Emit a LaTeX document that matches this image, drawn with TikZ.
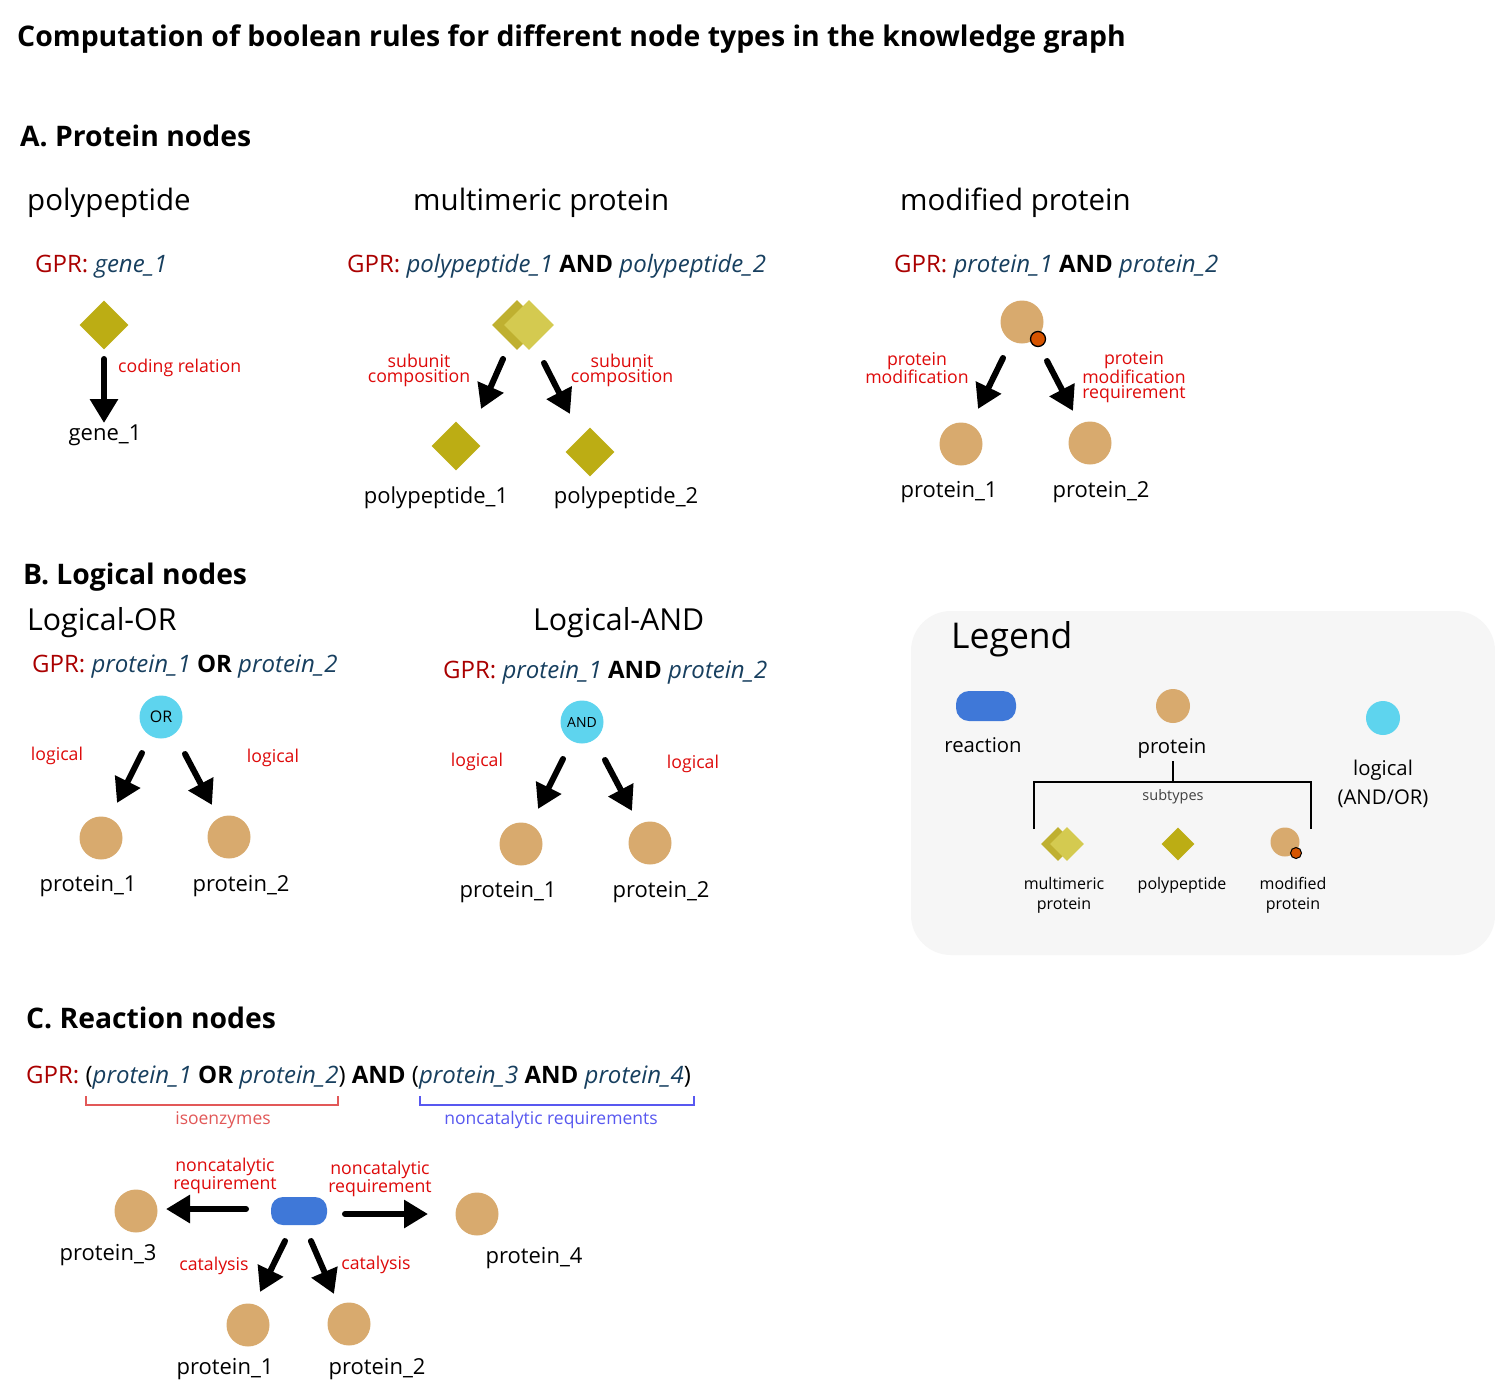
\documentclass[tikz,border=0pt]{standalone}
\usepackage{fontspec}
\setmainfont{Open Sans}
\usetikzlibrary{arrows.meta,shapes.geometric}
\newcommand\fz[2]{\fontsize{#1}{#2}\selectfont}
\definecolor{olive}{RGB}{188,173,20}
\definecolor{oliveback}{RGB}{191,176,48}
\definecolor{olivefront}{RGB}{212,202,80}
\definecolor{tan}{RGB}{216,170,110}
\definecolor{moddot}{RGB}{214,84,0}
\definecolor{cyanlog}{RGB}{94,212,238}
\definecolor{reacblue}{RGB}{63,120,216}
\definecolor{lblred}{RGB}{222,10,10}
\definecolor{gprred}{RGB}{170,0,0}
\definecolor{itblue}{RGB}{23,63,95}
\definecolor{isored}{RGB}{226,88,88}
\definecolor{ncblue}{RGB}{88,88,240}
\definecolor{legbg}{RGB}{246,246,246}
\newcommand\itb[1]{\textcolor{itblue}{\itshape #1}}
\newcommand\gpr{\textcolor{gprred}{GPR:}}
\begin{document}
\begin{tikzpicture}[x=1pt,y=-1pt,inner sep=0pt,
  bigarrow/.style={line width=6pt,line cap=round,-{Triangle[width=27pt,length=24pt]}},
  dia/.style={diamond,fill=olive,inner sep=0pt,minimum width=#1,minimum height=#1},
  dback/.style={diamond,fill=oliveback,inner sep=0pt,minimum width=#1,minimum height=#1},
  dfront/.style={diamond,fill=olivefront,inner sep=0pt,minimum width=#1,minimum height=#1},
  prot/.style={circle,fill=tan,inner sep=0pt,minimum size=#1},
  mdot/.style={circle,fill=moddot,draw=black,line width=1.3pt,inner sep=0pt,minimum size=#1},
  logc/.style={circle,fill=cyanlog,inner sep=0pt,minimum size=#1},
  reac/.style={rounded corners=#1,fill=reacblue},
  head/.style={anchor=base west,font=\fz{28.3}{32}\bfseries},
  sub/.style={anchor=base west,font=\fz{29.5}{34}},
  gprt/.style={anchor=base west,font=\fz{24}{28}},
  lbl/.style={text=lblred,align=center,font=\fz{17.7}{15},inner sep=0pt},
  nm/.style={anchor=base,font=\fz{22}{26}},
  leg/.style={anchor=base,align=center,font=\fz{16}{20}},
]
\useasboundingbox (0,0) rectangle (1495,1381);
\fill[white] (0,0) rectangle (1495,1381);

% Title
\node[anchor=base west,font=\fz{28.4}{32}\bfseries] (title) at (17,47) {Computation of boolean rules for different node types in the knowledge graph};

% ===== A =====
\node[head] (hA) at (20,146) {A. Protein nodes};
\node[sub] (sA1) at (27,210) {polypeptide};
\node[sub] (sA2) at (413,210) {multimeric protein};
\node[sub] (sA3) at (900,210) {modified protein};

% polypeptide
\node[gprt] (gA1) at (35,272) {\gpr{} \itb{gene\_1}};
\node[dia=49pt] (pp) at (104,325) {};
\coordinate (ppa1) at (104,359);
\coordinate (ppa2) at (104,423);
\draw[bigarrow] (ppa1) -- (ppa2);
\node[lbl,anchor=base west] (lcod) at (118,372) {coding relation};
\node[nm] (g1) at (105,440) {gene\_1};

% multimeric
\node[gprt] (gA2) at (347,272) {\gpr{} \itb{polypeptide\_1} \textbf{AND} \itb{polypeptide\_2}};
\node[dback=50pt] (mmb) at (517,325) {};
\node[dfront=50pt] (mmf) at (529,325) {};
\coordinate (mma1) at (503,359);
\coordinate (mma2) at (481,409);
\coordinate (mmb1) at (544,363);
\coordinate (mmb2) at (570,414);
\draw[bigarrow] (mma1) -- (mma2);
\draw[bigarrow] (mmb1) -- (mmb2);
\node[lbl] (lsc1) at (419,370) {subunit\\composition};
\node[lbl] (lsc2) at (622,370) {subunit\\composition};
\node[dia=49pt] (pp1) at (456,446) {};
\node[dia=49pt] (pp2) at (590,452) {};
\node[nm] (npp1) at (436,503) {polypeptide\_1};
\node[nm] (npp2) at (626,503) {polypeptide\_2};

% modified
\node[gprt] (gA3) at (894,272) {\gpr{} \itb{protein\_1} \textbf{AND} \itb{protein\_2}};
\node[prot=43pt] (mp) at (1022,322) {};
\node[mdot=15pt] (mpd) at (1038,339) {};
\coordinate (mpa1) at (1003,358);
\coordinate (mpa2) at (978,409);
\coordinate (mpb1) at (1047,361);
\coordinate (mpb2) at (1073,411);
\draw[bigarrow] (mpa1) -- (mpa2);
\draw[bigarrow] (mpb1) -- (mpb2);
\node[lbl] (lpm) at (917,368) {protein\\modification};
\node[lbl] (lpmr) at (1134,377) {protein\\modification\\requirement};
\node[prot=43pt] (mp1) at (961,444) {};
\node[prot=43pt] (mp2) at (1090,443) {};
\node[nm] (nmp1) at (949,497) {protein\_1};
\node[nm] (nmp2) at (1101,497) {protein\_2};

% ===== B =====
\node[head] (hB) at (23,584) {B. Logical nodes};
\node[sub,font=\fz{30.3}{34}] (sB1) at (27,630) {Logical-OR};
\node[sub,font=\fz{30.3}{34}] (sB2) at (533,630) {Logical-AND};

% OR
\node[gprt] (gB1) at (32,672) {\gpr{} \itb{protein\_1} \textbf{OR} \itb{protein\_2}};
\node[logc=43pt,font=\fz{16}{18}] (or) at (161,717) {OR};
\coordinate (ora1) at (142,753);
\coordinate (ora2) at (117,803);
\coordinate (orb1) at (185,754);
\coordinate (orb2) at (212,805);
\draw[bigarrow] (ora1) -- (ora2);
\draw[bigarrow] (orb1) -- (orb2);
\node[lbl,anchor=base] (lo1) at (57,760) {logical};
\node[lbl,anchor=base] (lo2) at (273,762) {logical};
\node[prot=43pt] (op1) at (101,838) {};
\node[prot=43pt] (op2) at (229,837) {};
\node[nm] (nop1) at (88,891) {protein\_1};
\node[nm] (nop2) at (241,891) {protein\_2};

% AND
\node[gprt] (gB2) at (443,678) {\gpr{} \itb{protein\_1} \textbf{AND} \itb{protein\_2}};
\node[logc=43pt,font=\fz{14}{16}] (and) at (582,722) {AND};
\coordinate (ana1) at (563,759);
\coordinate (ana2) at (538,809);
\coordinate (anb1) at (605,760);
\coordinate (anb2) at (632,811);
\draw[bigarrow] (ana1) -- (ana2);
\draw[bigarrow] (anb1) -- (anb2);
\node[lbl,anchor=base] (la1) at (477,766) {logical};
\node[lbl,anchor=base] (la2) at (693,768) {logical};
\node[prot=43pt] (ap1) at (521,844) {};
\node[prot=43pt] (ap2) at (650,843) {};
\node[nm] (nap1) at (508,897) {protein\_1};
\node[nm] (nap2) at (661,897) {protein\_2};

% ===== Legend =====
\fill[legbg,rounded corners=40pt] (911,611) rectangle (1495,955);
\node[anchor=base west,font=\fz{35.5}{40}] (lgt) at (951,648) {Legend};
\fill[reac=13pt] (956,691) rectangle (1016,721);
\node[nm,font=\fz{20.3}{26}] (lgr) at (983,752) {reaction};
\node[prot=34pt] (lgp) at (1173,706) {};
\node[nm,font=\fz{20.3}{26}] (lgpt) at (1172,753) {protein};
\node[logc=34pt] (lgl) at (1383,718) {};
\node[anchor=base,font=\fz{20.3}{29},align=center] (lglt) at (1383,804) {logical\\(AND/OR)};
\coordinate (br0) at (1173,761);
\coordinate (br1) at (1173,782);
\coordinate (brl) at (1034,829);
\coordinate (brr) at (1311,829);
\draw[line width=2.5pt] (br0) -- (br1);
\draw[line width=2.5pt] (brl) |- (br1) -| (brr);
\node[anchor=base,font=\fz{14.5}{16},text=black!75] (lgs) at (1173,800) {subtypes};
\node[dback=34pt] (lgmb) at (1058,844) {};
\node[dfront=34pt] (lgmf) at (1067,844) {};
\node[dia=33pt] (lgpp) at (1178,844) {};
\node[prot=29pt] (lgmp) at (1285,842) {};
\node[mdot=11pt,line width=1pt] (lgmd) at (1296,853) {};
\node[leg] (lgmt) at (1064,909) {multimeric\\protein};
\node[leg] (lgppt) at (1182,889) {polypeptide};
\node[leg] (lgmpt) at (1293,909) {modified\\protein};

% ===== C =====
\node[head] (hC) at (26,1028) {C. Reaction nodes};
\node[gprt] (gC) at (26,1083) {\gpr{} (\itb{protein\_1} \textbf{OR} \itb{protein\_2}) \textbf{AND} (\itb{protein\_3} \textbf{AND} \itb{protein\_4})};
\coordinate (ib1) at (86,1096);
\coordinate (ib2) at (338,1096);
\draw[isored,line width=2pt] (ib1) |- (212,1105) -| (ib2);
\node[anchor=base,font=\fz{17.5}{18},text=isored] (iso) at (223,1124) {isoenzymes};
\coordinate (nb1) at (420,1096);
\coordinate (nb2) at (694,1096);
\draw[ncblue,line width=2pt] (nb1) |- (557,1105) -| (nb2);
\node[anchor=base,font=\fz{17.5}{18},text=ncblue] (ncr) at (551,1124) {noncatalytic requirements};

\fill[reac=12pt] (271,1197) rectangle (327,1225);
\node[inner sep=0pt,minimum width=56pt,minimum height=28pt] (rx) at (299,1211) {};
\node[prot=43pt] (p3) at (136,1211) {};
\node[prot=43pt] (p4) at (477,1214) {};
\node[prot=43pt] (p1) at (248,1325) {};
\node[prot=43pt] (p2) at (349,1324) {};
\coordinate (ra1) at (246,1209);
\coordinate (ra2) at (166,1209);
\coordinate (rb1) at (345,1214);
\coordinate (rb2) at (428,1214);
\coordinate (rc1) at (285,1241);
\coordinate (rc2) at (260,1292);
\coordinate (rd1) at (311,1241);
\coordinate (rd2) at (334,1294);
\draw[bigarrow] (ra1) -- (ra2);
\draw[bigarrow] (rb1) -- (rb2);
\draw[bigarrow] (rc1) -- (rc2);
\draw[bigarrow] (rd1) -- (rd2);
\node[lbl] (lnc1) at (225,1176) {noncatalytic\\requirement};
\node[lbl] (lnc2) at (380,1179) {noncatalytic\\requirement};
\node[lbl,anchor=base] (lca1) at (214,1270) {catalysis};
\node[lbl,anchor=base] (lca2) at (376,1269) {catalysis};
\node[nm] (np3) at (108,1260) {protein\_3};
\node[nm] (np4) at (534,1263) {protein\_4};
\node[nm] (np1) at (225,1374) {protein\_1};
\node[nm] (np2) at (377,1374) {protein\_2};
\end{tikzpicture}
\end{document}
